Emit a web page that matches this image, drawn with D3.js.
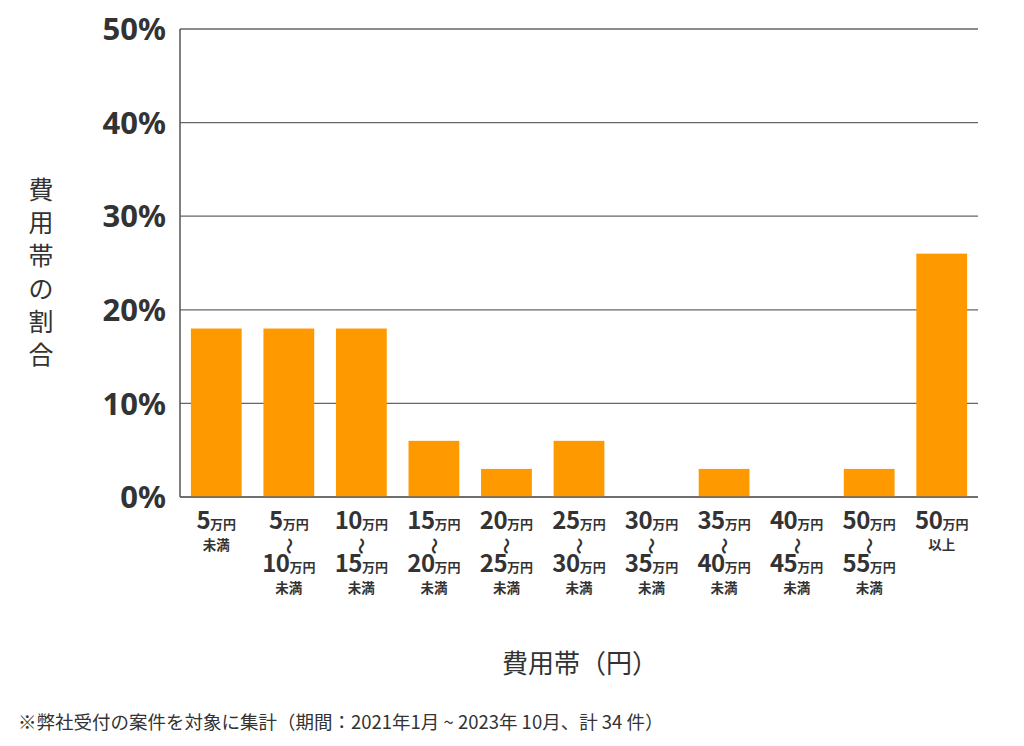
<!DOCTYPE html>
<html>
<head>
<meta charset="utf-8">
<script src="https://cdn.jsdelivr.net/npm/d3@7"></script>
<style>
  body { margin: 0; background: #fff; }
  svg text { font-family: "Noto Sans CJK JP", "Noto Sans", sans-serif; fill: #333; }
</style>
</head>
<body>
<div id="chart"></div>
<script>
// lower bound / upper bound of each price band (in 万円), null = open
var fromValues = [null, 5, 10, 15, 20, 25, 30, 35, 40, 50, 50];
var toValues = [5, 10, 15, 20, 25, 30, 35, 40, 45, 55, null];
var shares = [18, 18, 18, 6, 3, 6, 0, 3, 0, 3, 26];
var yTicks = [0, 10, 20, 30, 40, 50];

function createBarChart() {
    var w = 1024;
    var h = 746;
    var margin = {top: 29, right: 46, bottom: 249, left: 180};

    var svg = d3.select('#chart')
        .append('svg')
        .attr('width', w)
        .attr('height', h);

    var x = d3.scaleBand()
        .domain(d3.range(shares.length))
        .range([margin.left, w - margin.right])
        .paddingInner(0.3)
        .paddingOuter(0.15);

    var y = d3.scaleLinear()
        .domain([0, 50])
        .range([h - margin.bottom, margin.top]);

    // grid lines
    svg.append('g')
        .selectAll('line')
        .data(yTicks)
        .enter()
        .append('line')
        .attr('x1', margin.left)
        .attr('x2', w - margin.right)
        .attr('y1', function(d) { return y(d); })
        .attr('y2', function(d) { return y(d); })
        .attr('stroke', '#666')
        .attr('stroke-width', 1.3);

    // y axis line
    svg.append('line')
        .attr('x1', margin.left)
        .attr('x2', margin.left)
        .attr('y1', y(50))
        .attr('y2', y(0))
        .attr('stroke', '#555')
        .attr('stroke-width', 1.5);

    // y tick labels
    svg.append('g')
        .selectAll('text')
        .data(yTicks)
        .enter()
        .append('text')
        .text(function(d) { return d + '%'; })
        .attr('x', 166)
        .attr('y', function(d) { return y(d); })
        .attr('dy', '0.36em')
        .attr('text-anchor', 'end')
        .attr('font-size', '31px')
        .attr('font-weight', 700)
        .style('font-family', '"Noto Sans", sans-serif');

    // bars
    svg.append('g')
        .selectAll('rect')
        .data(shares)
        .enter()
        .append('rect')
        .attr('fill', '#ff9900')
        .attr('x', function(d, i) { return x(i); })
        .attr('y', function(d) { return y(d); })
        .attr('width', x.bandwidth())
        .attr('height', function(d) { return y(0) - y(d); });

    // redraw baseline over bars
    svg.append('line')
        .attr('x1', margin.left)
        .attr('x2', w - margin.right)
        .attr('y1', y(0))
        .attr('y2', y(0))
        .attr('stroke', '#666')
        .attr('stroke-width', 1.5);

    // category labels: "N万円" with an optional small suffix line (未満 / 以上)
    function amount(g, v, baseline, suffix) {
        var t = g.append('text')
            .attr('y', baseline)
            .attr('text-anchor', 'middle')
            .attr('font-weight', 700);
        t.append('tspan').text(v).attr('font-size', '24px').attr('letter-spacing', '-0.5px');
        t.append('tspan').text('万円').attr('font-size', '13px');
        if (suffix) {
            t.append('tspan')
                .text(suffix)
                .attr('x', 0)
                .attr('dy', 21)
                .attr('font-size', '13.5px');
        }
    }

    var labels = svg.append('g')
        .selectAll('g')
        .data(shares)
        .enter()
        .append('g')
        .attr('transform', function(d, i) {
            return 'translate(' + (x(i) + x.bandwidth() / 2) + ',0)';
        });

    labels.each(function(d, i) {
        var g = d3.select(this);
        if (fromValues[i] === null) {
            amount(g, toValues[i], 529, '未満');
        } else if (toValues[i] === null) {
            amount(g, fromValues[i], 529, '以上');
        } else {
            amount(g, fromValues[i], 529);
            g.append('text')
                .text('〜')
                .attr('transform', 'translate(0,546) rotate(90)')
                .attr('text-anchor', 'middle')
                .attr('dy', '0.36em')
                .attr('font-size', '17px')
                .attr('font-weight', 700);
            amount(g, toValues[i], 572, '未満');
        }
    });

    // y axis title (vertical)
    svg.append('g')
        .selectAll('text')
        .data('費用帯の割合'.split(''))
        .enter()
        .append('text')
        .text(function(d) { return d; })
        .attr('x', 41)
        .attr('y', function(d, i) { return 199 + i * 33; })
        .attr('text-anchor', 'middle')
        .attr('font-size', '25px');

    // x axis title
    svg.append('text')
        .text('費用帯（円）')
        .attr('x', 580)
        .attr('y', 673)
        .attr('text-anchor', 'middle')
        .attr('font-size', '26px');

    // footnote
    svg.append('text')
        .text('※弊社受付の案件を対象に集計（期間：2021年1月 ~ 2023年 10月、計 34 件）')
        .attr('x', 18)
        .attr('y', 729)
        .attr('font-size', '18.5px');
}

createBarChart();
</script>
</body>
</html>
